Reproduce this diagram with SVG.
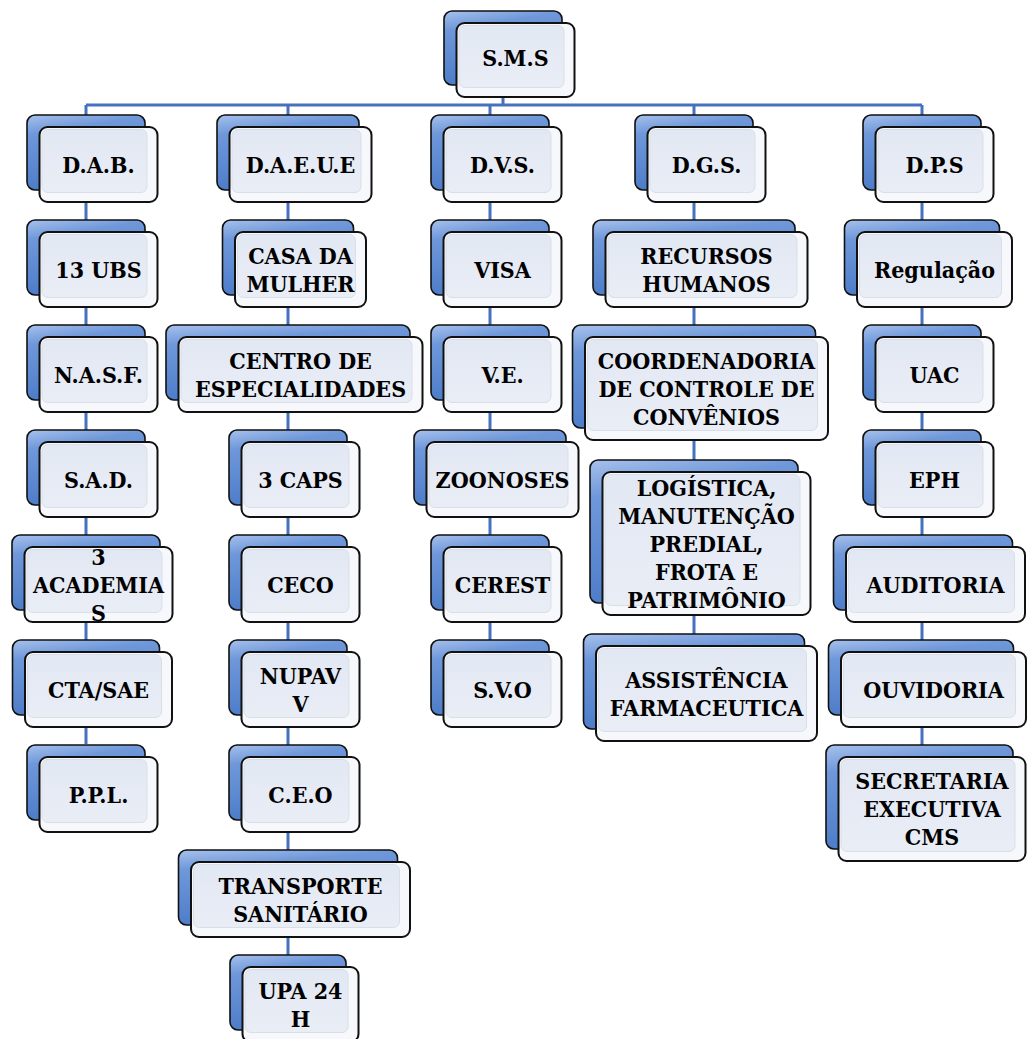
<svg xmlns="http://www.w3.org/2000/svg" width="1027" height="1039" viewBox="0 0 1027 1039">
<defs>
<linearGradient id="gBack" x1="0" y1="0" x2="0.25" y2="1">
<stop offset="0" stop-color="#A7C1EC"/>
<stop offset="0.25" stop-color="#6F98DA"/>
<stop offset="1" stop-color="#4B7BC8"/>
</linearGradient>
<linearGradient id="gInner" x1="0" y1="0" x2="0" y2="1">
<stop offset="0" stop-color="#E2E8F3"/>
<stop offset="1" stop-color="#E9EDF6"/>
</linearGradient>
<style>
.back{fill:url(#gBack);stroke:#111;stroke-width:1.6}
.front{fill:#F6F8FC;stroke:#111;stroke-width:2}
.inner{fill:url(#gInner);stroke:#D9DEE7;stroke-width:1}
.conn{fill:none;stroke:#4571BE;stroke-width:3}
text{font-family:"DejaVu Serif Condensed","DejaVu Serif",serif;font-weight:bold;font-size:23px;fill:#000;text-anchor:middle}
</style>
</defs>
<rect width="1027" height="1039" fill="#fff"/>
<g id="connectors">
<path class="conn" d="M503 90 V105 M86 105 H922 M86 105 V744 M288 105 V955 M490 105 V640 M694 105 V634 M922 105 V745"/>
</g>

<g id="n-sms"><rect class="back" x="444" y="11" width="118" height="74" rx="8"/><rect class="front" x="456.5" y="23" width="118" height="74" rx="8"/><rect class="inner" x="459" y="25.5" width="105" height="62" rx="6"/><text x="515.5" y="66">S.M.S</text></g>

<g id="n-dab"><rect class="back" x="27" y="115" width="118" height="75" rx="8"/><rect class="front" x="39.5" y="127" width="118" height="75" rx="8"/><rect class="inner" x="42" y="129.5" width="105" height="63" rx="6"/><text x="98.5" y="172.5">D.A.B.</text></g>
<g id="n-ubs"><rect class="back" x="27" y="220" width="118" height="75" rx="8"/><rect class="front" x="39.5" y="232" width="118" height="75" rx="8"/><rect class="inner" x="42" y="234.5" width="105" height="63" rx="6"/><text x="98.5" y="277.5">13 UBS</text></g>
<g id="n-nasf"><rect class="back" x="27" y="325" width="118" height="75" rx="8"/><rect class="front" x="39.5" y="337" width="118" height="75" rx="8"/><rect class="inner" x="42" y="339.5" width="105" height="63" rx="6"/><text x="98.5" y="382.5">N.A.S.F.</text></g>
<g id="n-sad"><rect class="back" x="27" y="430" width="118" height="75" rx="8"/><rect class="front" x="39.5" y="442" width="118" height="75" rx="8"/><rect class="inner" x="42" y="444.5" width="105" height="63" rx="6"/><text x="98.5" y="487.5">S.A.D.</text></g>
<g id="n-academias"><rect class="back" x="12" y="535" width="148" height="75" rx="8"/><rect class="front" x="24.5" y="547" width="148" height="75" rx="8"/><rect class="inner" x="27" y="549.5" width="135" height="63" rx="6"/><text x="98.5" y="564.5"><tspan x="98.5">3</tspan><tspan x="98.5" dy="28">ACADEMIA</tspan><tspan x="98.5" dy="28">S</tspan></text></g>
<g id="n-cta"><rect class="back" x="12.5" y="640" width="147" height="75" rx="8"/><rect class="front" x="25" y="652" width="147" height="75" rx="8"/><rect class="inner" x="27.5" y="654.5" width="134" height="63" rx="6"/><text x="98.5" y="697.5">CTA/SAE</text></g>
<g id="n-ppl"><rect class="back" x="27" y="745" width="118" height="75" rx="8"/><rect class="front" x="39.5" y="757" width="118" height="75" rx="8"/><rect class="inner" x="42" y="759.5" width="105" height="63" rx="6"/><text x="98.5" y="802.5">P.P.L.</text></g>

<g id="n-daeue"><rect class="back" x="217" y="115" width="142" height="75" rx="8"/><rect class="front" x="229.5" y="127" width="142" height="75" rx="8"/><rect class="inner" x="232" y="129.5" width="129" height="63" rx="6"/><text x="300.5" y="172.5">D.A.E.U.E</text></g>
<g id="n-casa"><rect class="back" x="222.5" y="220" width="131" height="75" rx="8"/><rect class="front" x="235" y="232" width="131" height="75" rx="8"/><rect class="inner" x="237.5" y="234.5" width="118" height="63" rx="6"/><text x="300.5" y="263.5"><tspan x="300.5">CASA DA</tspan><tspan x="300.5" dy="28">MULHER</tspan></text></g>
<g id="n-centro"><rect class="back" x="166" y="325" width="244" height="75" rx="8"/><rect class="front" x="178.5" y="337" width="244" height="75" rx="8"/><rect class="inner" x="181" y="339.5" width="231" height="63" rx="6"/><text x="300.5" y="368.5"><tspan x="300.5">CENTRO DE</tspan><tspan x="300.5" dy="28">ESPECIALIDADES</tspan></text></g>
<g id="n-caps"><rect class="back" x="229" y="430" width="118" height="75" rx="8"/><rect class="front" x="241.5" y="442" width="118" height="75" rx="8"/><rect class="inner" x="244" y="444.5" width="105" height="63" rx="6"/><text x="300.5" y="487.5">3 CAPS</text></g>
<g id="n-ceco"><rect class="back" x="229" y="535" width="118" height="75" rx="8"/><rect class="front" x="241.5" y="547" width="118" height="75" rx="8"/><rect class="inner" x="244" y="549.5" width="105" height="63" rx="6"/><text x="300.5" y="592.5">CECO</text></g>
<g id="n-nupavv"><rect class="back" x="229" y="640" width="118" height="75" rx="8"/><rect class="front" x="241.5" y="652" width="118" height="75" rx="8"/><rect class="inner" x="244" y="654.5" width="105" height="63" rx="6"/><text x="300.5" y="683.5"><tspan x="300.5">NUPAV</tspan><tspan x="300.5" dy="28">V</tspan></text></g>
<g id="n-ceo"><rect class="back" x="229" y="745" width="118" height="75" rx="8"/><rect class="front" x="241.5" y="757" width="118" height="75" rx="8"/><rect class="inner" x="244" y="759.5" width="105" height="63" rx="6"/><text x="300.5" y="802.5">C.E.O</text></g>
<g id="n-transporte"><rect class="back" x="178.5" y="850" width="219" height="75" rx="8"/><rect class="front" x="191" y="862" width="219" height="75" rx="8"/><rect class="inner" x="193.5" y="864.5" width="206" height="63" rx="6"/><text x="300.5" y="893.5"><tspan x="300.5">TRANSPORTE</tspan><tspan x="300.5" dy="28">SANITÁRIO</tspan></text></g>
<g id="n-upa"><rect class="back" x="230" y="955" width="116" height="75" rx="8"/><rect class="front" x="242.5" y="967" width="116" height="75" rx="8"/><rect class="inner" x="245" y="969.5" width="103" height="63" rx="6"/><text x="300.5" y="998.5"><tspan x="300.5">UPA 24</tspan><tspan x="300.5" dy="28">H</tspan></text></g>

<g id="n-dvs"><rect class="back" x="431" y="115" width="118" height="75" rx="8"/><rect class="front" x="443.5" y="127" width="118" height="75" rx="8"/><rect class="inner" x="446" y="129.5" width="105" height="63" rx="6"/><text x="502.5" y="172.5">D.V.S.</text></g>
<g id="n-visa"><rect class="back" x="431" y="220" width="118" height="75" rx="8"/><rect class="front" x="443.5" y="232" width="118" height="75" rx="8"/><rect class="inner" x="446" y="234.5" width="105" height="63" rx="6"/><text x="502.5" y="277.5">VISA</text></g>
<g id="n-ve"><rect class="back" x="431" y="325" width="118" height="75" rx="8"/><rect class="front" x="443.5" y="337" width="118" height="75" rx="8"/><rect class="inner" x="446" y="339.5" width="105" height="63" rx="6"/><text x="502.5" y="382.5">V.E.</text></g>
<g id="n-zoonoses"><rect class="back" x="414" y="430" width="152" height="75" rx="8"/><rect class="front" x="426.5" y="442" width="152" height="75" rx="8"/><rect class="inner" x="429" y="444.5" width="139" height="63" rx="6"/><text x="502.5" y="487.5">ZOONOSES</text></g>
<g id="n-cerest"><rect class="back" x="431" y="535" width="118" height="75" rx="8"/><rect class="front" x="443.5" y="547" width="118" height="75" rx="8"/><rect class="inner" x="446" y="549.5" width="105" height="63" rx="6"/><text x="502.5" y="592.5">CEREST</text></g>
<g id="n-svo"><rect class="back" x="431" y="640" width="118" height="75" rx="8"/><rect class="front" x="443.5" y="652" width="118" height="75" rx="8"/><rect class="inner" x="446" y="654.5" width="105" height="63" rx="6"/><text x="502.5" y="697.5">S.V.O</text></g>

<g id="n-dgs"><rect class="back" x="635" y="115" width="118" height="75" rx="8"/><rect class="front" x="647.5" y="127" width="118" height="75" rx="8"/><rect class="inner" x="650" y="129.5" width="105" height="63" rx="6"/><text x="706.5" y="172.5">D.G.S.</text></g>
<g id="n-rh"><rect class="back" x="593" y="220" width="202" height="75" rx="8"/><rect class="front" x="605.5" y="232" width="202" height="75" rx="8"/><rect class="inner" x="608" y="234.5" width="189" height="63" rx="6"/><text x="706.5" y="263.5"><tspan x="706.5">RECURSOS</tspan><tspan x="706.5" dy="28">HUMANOS</tspan></text></g>
<g id="n-coord"><rect class="back" x="572.5" y="325" width="243" height="103" rx="8"/><rect class="front" x="585" y="337" width="243" height="103" rx="8"/><rect class="inner" x="587.5" y="339.5" width="230" height="91" rx="6"/><text x="706.5" y="368.5"><tspan x="706.5">COORDENADORIA</tspan><tspan x="706.5" dy="28">DE CONTROLE DE</tspan><tspan x="706.5" dy="28">CONVÊNIOS</tspan></text></g>
<g id="n-log"><rect class="back" x="590" y="460" width="208" height="143" rx="8"/><rect class="front" x="602.5" y="472" width="208" height="143" rx="8"/><rect class="inner" x="605" y="474.5" width="195" height="131" rx="6"/><text x="706.5" y="495.5"><tspan x="706.5">LOGÍSTICA,</tspan><tspan x="706.5" dy="28">MANUTENÇÃO</tspan><tspan x="706.5" dy="28">PREDIAL,</tspan><tspan x="706.5" dy="28">FROTA E</tspan><tspan x="706.5" dy="28">PATRIMÔNIO</tspan></text></g>
<g id="n-assist"><rect class="back" x="583.5" y="634" width="221" height="95" rx="8"/><rect class="front" x="596" y="646" width="221" height="95" rx="8"/><rect class="inner" x="598.5" y="648.5" width="208" height="83" rx="6"/><text x="706.5" y="687.5"><tspan x="706.5">ASSISTÊNCIA</tspan><tspan x="706.5" dy="28">FARMACEUTICA</tspan></text></g>

<g id="n-dps"><rect class="back" x="863" y="115" width="118" height="75" rx="8"/><rect class="front" x="875.5" y="127" width="118" height="75" rx="8"/><rect class="inner" x="878" y="129.5" width="105" height="63" rx="6"/><text x="934.5" y="172.5">D.P.S</text></g>
<g id="n-regulacao"><rect class="back" x="844.5" y="220" width="155" height="75" rx="8"/><rect class="front" x="857" y="232" width="155" height="75" rx="8"/><rect class="inner" x="859.5" y="234.5" width="142" height="63" rx="6"/><text x="934.5" y="277.5">Regulação</text></g>
<g id="n-uac"><rect class="back" x="863" y="325" width="118" height="75" rx="8"/><rect class="front" x="875.5" y="337" width="118" height="75" rx="8"/><rect class="inner" x="878" y="339.5" width="105" height="63" rx="6"/><text x="934.5" y="382.5">UAC</text></g>
<g id="n-eph"><rect class="back" x="863" y="430" width="118" height="75" rx="8"/><rect class="front" x="875.5" y="442" width="118" height="75" rx="8"/><rect class="inner" x="878" y="444.5" width="105" height="63" rx="6"/><text x="934.5" y="487.5">EPH</text></g>
<g id="n-auditoria"><rect class="back" x="833.5" y="535" width="179" height="75" rx="8"/><rect class="front" x="846" y="547" width="179" height="75" rx="8"/><rect class="inner" x="848.5" y="549.5" width="166" height="63" rx="6"/><text x="935.5" y="592.5">AUDITORIA</text></g>
<g id="n-ouvidoria"><rect class="back" x="828.5" y="640" width="185" height="75" rx="8"/><rect class="front" x="841" y="652" width="185" height="75" rx="8"/><rect class="inner" x="843.5" y="654.5" width="172" height="63" rx="6"/><text x="933.5" y="697.5">OUVIDORIA</text></g>
<g id="n-secretaria"><rect class="back" x="826" y="745" width="187" height="104" rx="8"/><rect class="front" x="838.5" y="757" width="187" height="104" rx="8"/><rect class="inner" x="841" y="759.5" width="174" height="92" rx="6"/><text x="932" y="789"><tspan x="932">SECRETARIA</tspan><tspan x="932" dy="28">EXECUTIVA</tspan><tspan x="932" dy="28">CMS</tspan></text></g>
</svg>
